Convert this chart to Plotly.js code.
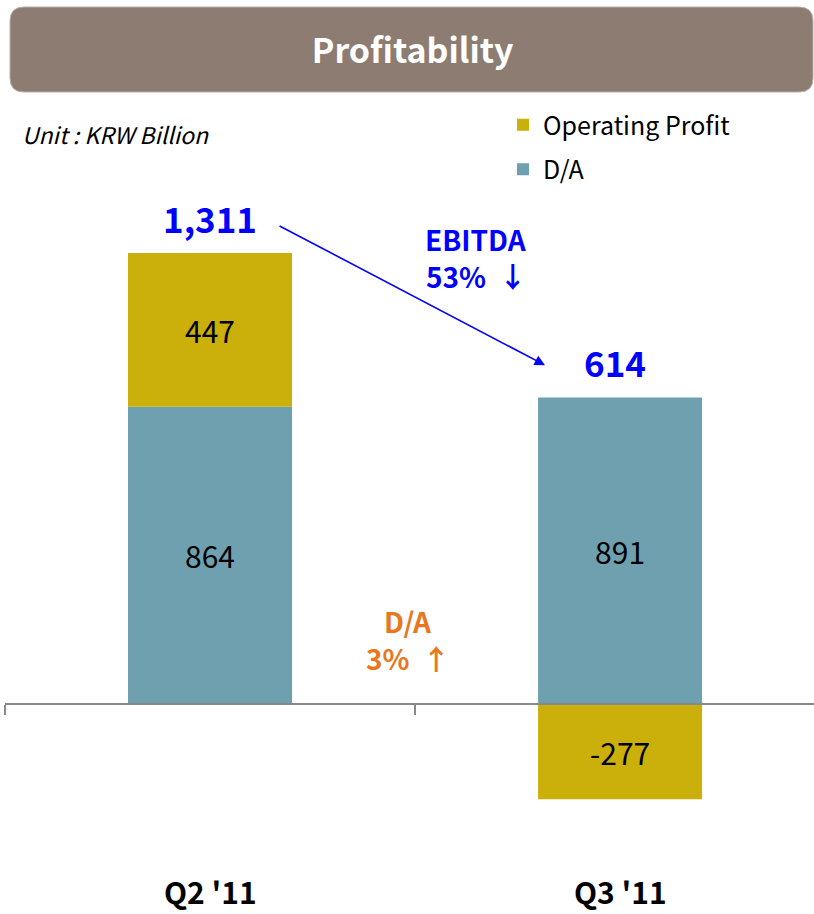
<!DOCTYPE html>
<html>
<head>
<meta charset="utf-8">
<script src="https://cdn.plot.ly/plotly-3.0.1.min.js"></script>
<style>html,body{margin:0;padding:0;background:#fff;overflow:hidden;}#chart{width:814px;height:914px;}</style>
</head>
<body>
<div id="chart"></div>
<script>
const categories = ["Q2 '11", "Q3 '11"];
const daValues = [864, 891];
const opValues = [447, -277];
const ebitdaTotals = [1311, 614];
const ebitdaLabels = ["1,311", "614"];
const seriesNames = ["Operating Profit", "D/A"];

const FONT = "'Noto Sans CJK KR', 'Noto Sans', sans-serif";
const gold = "#CBAF0B";
const teal = "#6FA0AF";

const traces = [
  {
    type: "bar", name: seriesNames[1], x: categories, y: daValues,
    marker: {color: teal}, width: 0.4,
    text: daValues.map(String), textposition: "inside", insidetextanchor: "middle",
    textfont: {family: FONT, size: 30, color: "#000"}, legendrank: 2, legendgroup: "b",
    hoverinfo: "skip"
  },
  {
    type: "bar", name: seriesNames[0], x: categories, y: opValues,
    marker: {color: gold}, width: 0.4,
    text: opValues.map(String), textposition: "inside", insidetextanchor: "middle",
    textfont: {family: FONT, size: 30, color: "#000"}, legendrank: 1, legendgroup: "a",
    hoverinfo: "skip"
  }
];

function px2paperX(px) { return (px - 5) / 809; }
function px2paperY(py) { return (864 - py) / 664; }

const annotations = [];
categories.forEach((c, i) => {
  annotations.push({
    x: c, y: Math.max(ebitdaTotals[i], daValues[i]), xref: "x", yref: "y",
    text: "<b>" + ebitdaLabels[i] + "</b>", showarrow: false, yanchor: "bottom", yshift: 8,
    xshift: i === 1 ? -5 : 0,
    font: {family: FONT, size: 35, color: "#0000FF"}
  });
  annotations.push({
    x: c, y: px2paperY(891), xref: "x", yref: "paper", text: "<b>" + c + "</b>", showarrow: false,
    yanchor: "middle", font: {family: FONT, size: 30, color: "#000"}
  });
});
annotations.push({
  x: 0.817, y: 985, ax: 0.166, ay: 1392, xref: "x", yref: "y", axref: "x", ayref: "y",
  text: "", showarrow: true, arrowhead: 2, arrowsize: 1.3, arrowwidth: 1.6, arrowcolor: "#0000FF", standoff: 0
});
const blueNote = ["<b>EBITDA</b>", "<b>53%  ↓</b>"];
const blueY = [239, 276];
blueNote.forEach((t, k) => annotations.push({
  x: px2paperX(476), y: px2paperY(blueY[k]), xref: "paper", yref: "paper", text: t, showarrow: false,
  yanchor: "middle", font: {family: FONT, size: 28, color: "#0000FF"}
}));
const orangeNote = ["<b>D/A</b>", "<b>3%  ↑</b>"];
const orangeY = [621, 658];
orangeNote.forEach((t, k) => annotations.push({
  x: px2paperX(408), y: px2paperY(orangeY[k]), xref: "paper", yref: "paper", text: t, showarrow: false,
  yanchor: "middle", font: {family: FONT, size: 28, color: "#E8771E"}
}));
annotations.push({
  x: px2paperX(20), y: px2paperY(134), xref: "paper", yref: "paper", text: "<i>Unit : KRW Billion</i>", showarrow: false,
  font: {family: FONT, size: 23, color: "#000"}, xanchor: "left", yanchor: "middle"
});

const L = 10, R = 813, T = 7, B = 92, rr = 14;
const bannerPath = [
  "M", px2paperX(L + rr), px2paperY(T),
  "L", px2paperX(R - rr), px2paperY(T),
  "Q", px2paperX(R), px2paperY(T), px2paperX(R), px2paperY(T + rr),
  "L", px2paperX(R), px2paperY(B - rr),
  "Q", px2paperX(R), px2paperY(B), px2paperX(R - rr), px2paperY(B),
  "L", px2paperX(L + rr), px2paperY(B),
  "Q", px2paperX(L), px2paperY(B), px2paperX(L), px2paperY(B - rr),
  "L", px2paperX(L), px2paperY(T + rr),
  "Q", px2paperX(L), px2paperY(T), px2paperX(L + rr), px2paperY(T), "Z"
].join(" ");

const layout = {
  width: 814, height: 914,
  margin: {l: 5, r: 0, t: 200, b: 50},
  paper_bgcolor: "#fff", plot_bgcolor: "rgba(0,0,0,0)",
  barmode: "relative",
  showlegend: true,
  legend: {
    x: px2paperX(503), y: px2paperY(102), xanchor: "left", yanchor: "top", yref: "paper",
    font: {family: FONT, size: 25, color: "#000"}, traceorder: "grouped",
    tracegroupgap: 9, itemwidth: 30, bgcolor: "rgba(0,0,0,0)"
  },
  title: {
    text: "<b>Profitability</b>", x: 0.507, xanchor: "center", y: 0.944, yanchor: "middle",
    font: {family: FONT, size: 34, color: "#fff"}
  },
  xaxis: {
    type: "category", range: [-0.5, 1.473], showline: true, linecolor: "#888", linewidth: 2,
    ticks: "outside", tickson: "boundaries", ticklen: 10, tickcolor: "#888", tickwidth: 2,
    showticklabels: false, showgrid: false, zeroline: false, anchor: "free", position: 0.241,
    fixedrange: true
  },
  yaxis: {
    range: [-465.1, 1465.1], visible: false, showgrid: false, zeroline: false, fixedrange: true
  },
  shapes: [
    {
      type: "path", xref: "paper", yref: "paper", layer: "below",
      path: bannerPath, fillcolor: "#8D7C72", line: {width: 1, color: "#b9aea6"}
    }
  ],
  annotations: annotations
};

Plotly.newPlot("chart", traces, layout, {displayModeBar: false, staticPlot: true});
</script>
</body>
</html>
